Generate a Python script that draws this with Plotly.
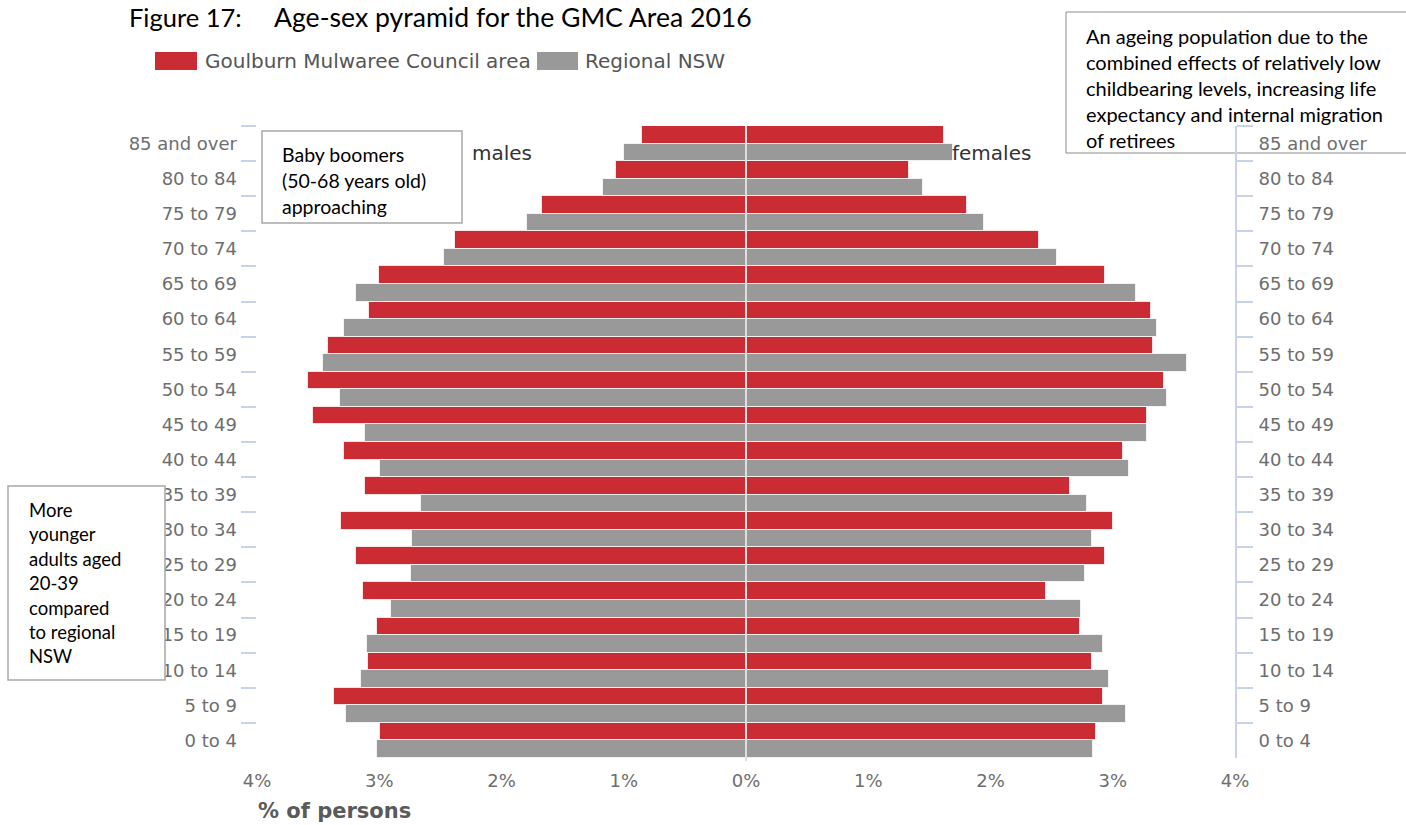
import plotly.graph_objects as go

# ---------------- data ----------------
ages = ["85 and over", "80 to 84", "75 to 79", "70 to 74", "65 to 69", "60 to 64",
        "55 to 59", "50 to 54", "45 to 49", "40 to 44", "35 to 39", "30 to 34",
        "25 to 29", "20 to 24", "15 to 19", "10 to 14", "5 to 9", "0 to 4"]

gmc_males = [0.85, 1.06, 1.67, 2.38, 3.00, 3.08, 3.42, 3.58, 3.54, 3.29, 3.12, 3.31,
             3.19, 3.13, 3.02, 3.09, 3.37, 2.99]
reg_males = [1.00, 1.17, 1.79, 2.47, 3.19, 3.29, 3.46, 3.32, 3.12, 2.99, 2.66, 2.73,
             2.74, 2.90, 3.10, 3.15, 3.27, 3.02]
gmc_females = [1.62, 1.33, 1.81, 2.40, 2.94, 3.31, 3.33, 3.42, 3.28, 3.08, 2.65, 3.00,
               2.94, 2.45, 2.73, 2.83, 2.92, 2.86]
reg_females = [1.69, 1.45, 1.95, 2.54, 3.19, 3.36, 3.61, 3.44, 3.28, 3.13, 2.79, 2.83,
               2.77, 2.74, 2.92, 2.97, 3.11, 2.84]

series_names = ["Goulburn Mulwaree Council area", "Regional NSW"]
x_tickvals = [-4, -3, -2, -1, 0, 1, 2, 3, 4]
x_ticktext = ["4%", "3%", "2%", "1%", "0%", "1%", "2%", "3%", "4%"]

title_left = "Figure 17:"
title_right = "Age-sex pyramid for the GMC Area 2016"
x_title = "% of persons"
box1_lines = ["Baby boomers", "(50-68 years old)", "approaching"]
box2_lines = ["An ageing population due to the", "combined effects of relatively low",
              "childbearing levels, increasing life", "expectancy and internal migration",
              "of retirees"]
box3_lines = ["More", "younger", "adults aged", "20-39", "compared", "to regional", "NSW"]

# ---------------- geometry helpers (page pixel -> paper) ----------------
W, H = 1406, 825
PL, PR, PT, PB = 257, 1235, 126, 758   # plot area in page pixels


def px(x):
    return (x - PL) / (PR - PL)


def py(y):
    return (PB - y) / (PB - PT)


RED = "#cb2c33"
GRAY = "#999999"
TICKC = "#c8d2e8"
LABC = "#6e6e6e"
FONT = "DejaVu Sans"
NOTE_FONT = "Lato"

outline = dict(color="rgba(255,255,255,0.75)", width=1)

fig = go.Figure()
fig.add_trace(go.Bar(y=ages, x=[-v for v in gmc_males], orientation="h", offsetgroup="gmc",
                     name=series_names[0], marker=dict(color=RED, line=outline),
                     customdata=gmc_males, showlegend=False,
                     hovertemplate="Males %{y}: %{customdata}%<extra>" + series_names[0] + "</extra>"))
fig.add_trace(go.Bar(y=ages, x=gmc_females, orientation="h", offsetgroup="gmc",
                     name=series_names[0], marker=dict(color=RED, line=outline), showlegend=False,
                     hovertemplate="Females %{y}: %{x}%<extra>" + series_names[0] + "</extra>"))
fig.add_trace(go.Bar(y=ages, x=[-v for v in reg_males], orientation="h", offsetgroup="reg",
                     name=series_names[1], marker=dict(color=GRAY, line=outline),
                     customdata=reg_males, showlegend=False,
                     hovertemplate="Males %{y}: %{customdata}%<extra>" + series_names[1] + "</extra>"))
fig.add_trace(go.Bar(y=ages, x=reg_females, orientation="h", offsetgroup="reg",
                     name=series_names[1], marker=dict(color=GRAY, line=outline), showlegend=False,
                     hovertemplate="Females %{y}: %{x}%<extra>" + series_names[1] + "</extra>"))
# invisible trace so the right-hand category axis gets its labels
fig.add_trace(go.Scatter(x=[0] * len(ages), y=ages, yaxis="y2", mode="markers",
                         marker=dict(opacity=0), showlegend=False, hoverinfo="skip"))

cat_axis = dict(type="category", categoryorder="array", categoryarray=ages,
                range=[len(ages) - 0.5, -0.5], tickson="boundaries", ticks="outside",
                tickcolor=TICKC, tickwidth=2, showgrid=False, zeroline=False,
                tickfont=dict(family=FONT, size=18, color=LABC), fixedrange=True)

yaxis = dict(cat_axis, ticklen=15, showline=False, ticklabelstandoff=19)
yaxis2 = dict(cat_axis, ticklen=16, showline=True, linecolor=TICKC, linewidth=2,
              overlaying="y", side="right", anchor="x", ticklabelstandoff=18)

shapes = [
    # zero line above the bars
    dict(type="line", xref="x", yref="paper", x0=0, x1=0, y0=-0.005, y1=1,
         line=dict(color="#dedede", width=2), layer="above"),
    # legend swatches
    dict(type="rect", xref="paper", yref="paper", x0=px(155), x1=px(197), y0=py(70), y1=py(52),
         fillcolor=RED, line=dict(width=0)),
    dict(type="rect", xref="paper", yref="paper", x0=px(537), x1=px(578), y0=py(70), y1=py(52),
         fillcolor=GRAY, line=dict(width=0)),
    # annotation boxes
    dict(type="rect", xref="paper", yref="paper", x0=px(262), x1=px(462), y0=py(223), y1=py(131),
         fillcolor="white", line=dict(color="#a8a8a8", width=1.5), layer="above"),
    dict(type="rect", xref="paper", yref="paper", x0=px(1066), x1=px(1412), y0=py(153), y1=py(12),
         fillcolor="rgba(0,0,0,0)", line=dict(color="#8c8c8c", width=1), layer="below"),
    dict(type="rect", xref="paper", yref="paper", x0=px(8), x1=px(165), y0=py(680), y1=py(486),
         fillcolor="white", line=dict(color="#a8a8a8", width=1.5), layer="above"),
]

annotations = []


def note(text, x, y, size, color="black", family=NOTE_FONT, bold=False):
    t = "<b>" + text + "</b>" if bold else text
    annotations.append(dict(text=t, xref="paper", yref="paper", x=px(x), y=py(y),
                            xanchor="left", yanchor="middle", showarrow=False,
                            font=dict(family=family, size=size, color=color)))


note(title_left, 127, 17, 25.5)
note(title_right, 272, 17, 26.6)
note(series_names[0], 203, 61, 20, color="#555555", family=FONT)
note(series_names[1], 583, 61, 20, color="#555555", family=FONT)
note("males", 470, 153, 20, color="#333333", family=FONT)
note("females", 950, 153, 20, color="#333333", family=FONT)
note(x_title, 256, 811, 21, color="#5a5a5a", family=FONT, bold=True)

for i, s in enumerate(box1_lines):
    note(s, 280, 154 + i * 26.2, 19.5)
for i, s in enumerate(box2_lines):
    note(s, 1084, 36 + i * 26, 20)
for i, s in enumerate(box3_lines):
    note(s, 27, 510 + i * 24.4, 18.5)

fig.update_layout(
    width=W, height=H,
    margin=dict(l=PL, r=W - PR, t=PT, b=H - PB, pad=0),
    paper_bgcolor="white", plot_bgcolor="white",
    barmode="group", bargap=0.0, bargroupgap=0.0,
    showlegend=False,
    xaxis=dict(range=[-4, 4], tickvals=x_tickvals, ticktext=x_ticktext, showgrid=False,
               zeroline=False, showline=False, ticks="", ticklabelstandoff=10,
               tickfont=dict(family=FONT, size=18, color=LABC), fixedrange=True),
    yaxis=yaxis,
    yaxis2=yaxis2,
    shapes=shapes,
    annotations=annotations,
)

# remove the default page margin so the figure sits at the window's top-left corner
fig.write_html("out.html",
               config={"displayModeBar": False},
               post_script="document.body.style.margin='0';document.body.style.overflow='hidden';")
